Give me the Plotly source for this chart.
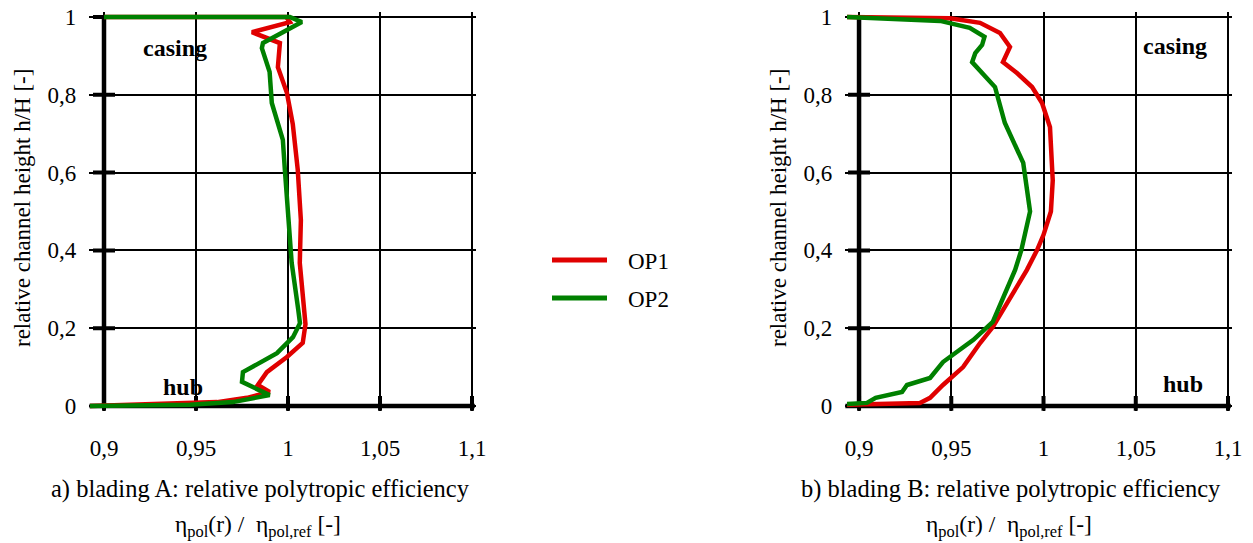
import plotly.graph_objects as go

# ---------------- data ----------------
series_names = ["OP1", "OP2"]
series_colors = ["#e00000", "#008000"]

# blading A
a_op1_eff = [0.9, 0.999, 1.001, 0.9804, 0.9956, 0.9945, 0.9994, 1.0026, 1.0053, 1.007, 1.0064,
             1.0085, 1.0095, 1.008, 0.9994, 0.9885, 0.9836, 0.990, 0.9777, 0.9614, 0.910, 0.8924]
a_op1_h = [1.0, 1.0, 0.987, 0.961, 0.933, 0.871, 0.805, 0.725, 0.607, 0.478, 0.368,
           0.25, 0.21, 0.162, 0.126, 0.087, 0.054, 0.036, 0.021, 0.010, 0.003, 0.0]
a_op2_eff = [0.9, 1.001, 1.0075, 0.9864, 0.9858, 0.990, 0.9912, 0.9972, 0.9983, 1.0, 1.002,
             1.0055, 1.0065, 1.0027, 0.994, 0.9755, 0.975, 0.990, 0.970, 0.9467, 0.8924]
a_op2_h = [1.0, 1.0, 0.987, 0.933, 0.92, 0.859, 0.779, 0.684, 0.607, 0.478, 0.368,
           0.25, 0.213, 0.177, 0.136, 0.087, 0.062, 0.028, 0.010, 0.003, 0.0]

# blading B
b_op1_eff = [0.8935, 0.9493, 0.9656, 0.9764, 0.9818, 0.978, 0.9856, 0.9938, 0.9992, 1.0035,
             1.005, 1.004, 1.0, 0.9965, 0.991, 0.9725, 0.9656, 0.9564, 0.9455, 0.9439,
             0.9385, 0.933, 0.9076, 0.8935]
b_op1_h = [1.0, 0.997, 0.985, 0.959, 0.923, 0.884, 0.856, 0.820, 0.779, 0.717,
           0.58, 0.5, 0.44, 0.401, 0.350, 0.203, 0.162, 0.100, 0.054, 0.046,
           0.021, 0.008, 0.005, 0.003]
b_op2_eff = [0.8935, 0.944, 0.960, 0.968, 0.9667, 0.963, 0.9613, 0.9737, 0.979, 0.989, 0.9927,
             0.988, 0.9846, 0.9725, 0.962, 0.9455, 0.9385, 0.926, 0.9233, 0.909, 0.9043, 0.8935]
b_op2_h = [1.0, 0.99, 0.972, 0.949, 0.928, 0.907, 0.884, 0.820, 0.728, 0.625, 0.5,
           0.401, 0.350, 0.216, 0.170, 0.113, 0.072, 0.054, 0.036, 0.021, 0.008, 0.005]

x_tickvals = [0.9, 0.95, 1.0, 1.05, 1.1]
x_ticktext = ["0,9", "0,95", "1", "1,05", "1,1"]
y_tickvals = [0, 0.2, 0.4, 0.6, 0.8, 1.0]
y_ticktext = ["0", "0,2", "0,4", "0,6", "0,8", "1"]

y_title = "relative channel height h/H [-]"
x_title_a = "a) blading A: relative polytropic efficiency"
x_title_b = "b) blading B: relative polytropic efficiency"
x_title_2 = "η<sub>pol</sub>(r) /  η<sub>pol,ref</sub> [-]"

# ---------------- layout helpers ----------------
OFF = 8  # page body margin
W, H = 1253 - OFF, 543 - OFF
FONT = "Liberation Serif, Times New Roman, serif"
FS = 23
FTICK = 23

def px(x):
    return (x - OFF) / W

def py(y):
    return 1 - (y - OFF) / H

yrange = [-0.012, 1.012]
ydom = [py(410.67), py(12.33)]
xrange_a = [0.892, 1.102]
xdom_a = [px(89.28), px(475.68)]
xrange_b = [0.8925, 1.102]
xdom_b = [px(845.2), px(1231.7)]

fig = go.Figure()

panels = [
    ("x", "y", [(a_op1_eff, a_op1_h), (a_op2_eff, a_op2_h)]),
    ("x2", "y2", [(b_op1_eff, b_op1_h), (b_op2_eff, b_op2_h)]),
]
for xa, ya, curves in panels:
    for (ex, hy), name, col in zip(curves, series_names, series_colors):
        fig.add_trace(go.Scatter(x=ex, y=hy, mode="lines", name=name, xaxis=xa, yaxis=ya,
                                 line=dict(color=col, width=4.5), showlegend=False))

axis_common = dict(showgrid=True, gridcolor="black", gridwidth=2, zeroline=False, automargin=False,
                   showline=False, ticks="", ticklabeloverflow="allow",
                   tickfont=dict(family=FONT, size=FTICK, color="black"))

fig.update_layout(
    width=W, height=H, autosize=False,
    margin=dict(l=0, r=0, t=0, b=0, pad=0),
    paper_bgcolor="white", plot_bgcolor="white",
    separators=",.",
    showlegend=False,
    xaxis=dict(domain=xdom_a, range=xrange_a, tickvals=x_tickvals, ticktext=x_ticktext,
               anchor="y", ticklabelstandoff=21, **axis_common),
    yaxis=dict(domain=ydom, range=yrange, tickvals=y_tickvals, ticktext=y_ticktext,
               anchor="x", ticklabelstandoff=12, **axis_common),
    xaxis2=dict(domain=xdom_b, range=xrange_b, tickvals=x_tickvals, ticktext=x_ticktext,
                anchor="y2", ticklabelstandoff=21, **axis_common),
    yaxis2=dict(domain=ydom, range=yrange, tickvals=y_tickvals, ticktext=y_ticktext,
                anchor="x2", ticklabelstandoff=12, **axis_common),
)

# axis lines and crossing ticks
shapes = []
for xa, ya, xr in [("x", "y", xrange_a), ("x2", "y2", xrange_b)]:
    x0 = x_tickvals[0]
    shapes.append(dict(type="line", xref=xa, yref=ya, x0=x0, x1=x0, y0=0, y1=1,
                       line=dict(color="black", width=4.5), layer="between"))
    shapes.append(dict(type="line", xref=xa, yref=ya, x0=xr[0], x1=x_tickvals[-1] + 0.0015, y0=0, y1=0,
                       line=dict(color="black", width=4.5), layer="between"))
    for v in y_tickvals:
        shapes.append(dict(type="line", xref=xa, yref=ya, xsizemode="pixel", xanchor=x0,
                           x0=-11, x1=11, y0=v, y1=v,
                           line=dict(color="black", width=4), layer="between"))
    for v in x_tickvals:
        shapes.append(dict(type="line", xref=xa, yref=ya, ysizemode="pixel", yanchor=0,
                           y0=-10, y1=10, x0=v, x1=v,
                           line=dict(color="black", width=4), layer="between"))

# legend (drawn manually)
leg_y = [260, 298]
for name, col, yy in zip(series_names, series_colors, leg_y):
    shapes.append(dict(type="line", xref="paper", yref="paper", x0=px(552), x1=px(607),
                       y0=py(yy), y1=py(yy), line=dict(color=col, width=5)))
fig.update_layout(shapes=shapes)

ann = []
for name, yy in zip(series_names, leg_y):
    ann.append(dict(text=name, xref="paper", yref="paper", x=px(626), y=py(yy + 1),
                    xanchor="left", yanchor="middle", showarrow=False,
                    font=dict(family=FONT, size=FS, color="black")))

# casing / hub labels
for xa, ya, cx, cy, hx, hy in [("x", "y", 0.9386, 0.92, 0.943, 0.049),
                               ("x2", "y2", 1.0713, 0.925, 1.0756, 0.057)]:
    ann.append(dict(text="<b>casing</b>", xref=xa, yref=ya, x=cx, y=cy, showarrow=False,
                    xanchor="center", yanchor="middle", font=dict(family=FONT, size=24, color="black")))
    ann.append(dict(text="<b>hub</b>", xref=xa, yref=ya, x=hx, y=hy, showarrow=False,
                    xanchor="center", yanchor="middle", font=dict(family=FONT, size=24, color="black")))

# axis titles
for xc in [22, 778]:
    ann.append(dict(text=y_title, xref="paper", yref="paper", x=px(xc), y=py(208), textangle=-90,
                    showarrow=False, xanchor="center", yanchor="middle",
                    font=dict(family=FONT, size=FS, color="black")))
for xc, t1 in [(260, x_title_a), (1011, x_title_b)]:
    ann.append(dict(text=t1, xref="paper", yref="paper", x=px(xc), y=py(489), showarrow=False,
                    xanchor="center", yanchor="middle", font=dict(family=FONT, size=24.5, color="black")))
    ann.append(dict(text=x_title_2, xref="paper", yref="paper", x=px(xc - 2), y=py(526), showarrow=False,
                    xanchor="center", yanchor="middle", font=dict(family=FONT, size=23.5, color="black")))
fig.update_layout(annotations=ann)

fig.write_html("out.html")
